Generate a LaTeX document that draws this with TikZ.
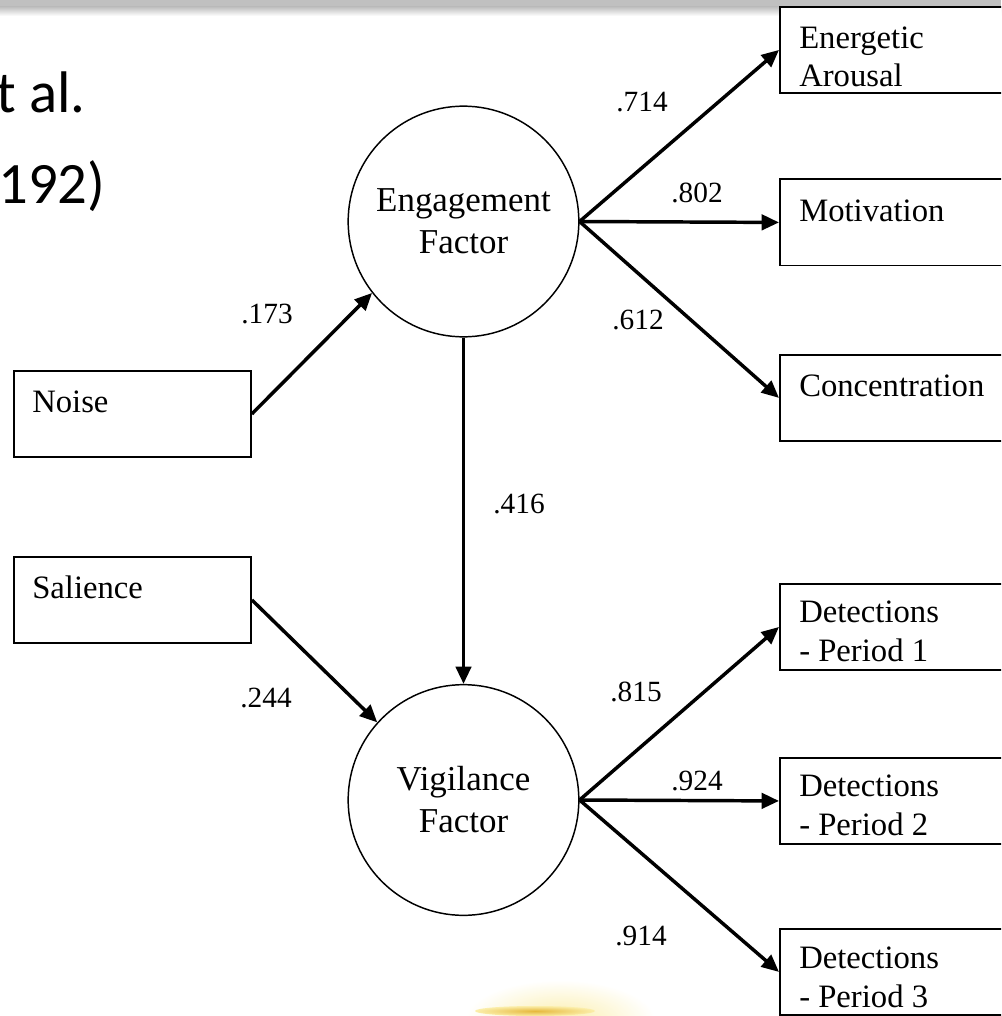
\documentclass[tikz,border=0pt]{standalone}
\usepackage{fontspec}
\setmainfont{Liberation Serif}
\newfontfamily\slidefont{Carlito}
\usetikzlibrary{arrows.meta}
\definecolor{bandgray}{RGB}{192,192,192}
\definecolor{glowgold}{RGB}{230,184,60}
\definecolor{glowpale}{RGB}{251,238,170}

\begin{document}
\begin{tikzpicture}[x=0.75pt,y=-0.75pt,
  factor/.style={draw, circle, line width=1.1pt, minimum size=173pt, inner sep=0pt,
    align=center, font=\fontsize{26.2}{31.5}\selectfont},
  box/.style={draw, fill=white, rectangle, line width=1.4pt, inner sep=0pt,
    anchor=north west, minimum height=64.5pt},
  leftbox/.style={box, minimum width=177.75pt},
  rightbox/.style={box, minimum width=195pt},
  txt/.style={anchor=base west, align=left, inner sep=0pt,
    font=\fontsize{24.5}{29}\selectfont},
  coef/.style={anchor=base, inner sep=0pt, font=\fontsize{22}{26}\selectfont},
  link/.style={line width=2.6pt, -{Triangle[length=13pt,width=11.5pt]}},
  slidetext/.style={anchor=base west, inner sep=0pt,
    font=\slidefont\fontsize{44}{52}\selectfont}
]
\useasboundingbox (0,0) rectangle (1001,1016);
\clip (0,0) rectangle (1001,1016);

% slide frame: grey band along the top edge
\fill[bandgray] (0,0) rectangle (1001,7);
\shade[top color=bandgray, bottom color=white] (0,7) rectangle (1001,16);

% golden glow at the bottom edge
\shade[inner color=glowpale, outer color=white] (560,1020) ellipse [x radius=95, y radius=40];
\shade[inner color=glowgold, outer color=glowpale] (535,1011) ellipse [x radius=60, y radius=5];

% slide title fragments
\node[slidetext] (title1) at (-4,113) {t al.};
\node[slidetext] (title2) at (-2,204) {192)};

% latent factors
\node[factor] (eng) at (463.5,221.5) {Engagement\\Factor};
\node[factor] (vig) at (463.5,800) {Vigilance\\Factor};

% manipulated variables
\node[leftbox] (noise) at (13,370) {};
\node[txt] (noise-t) at ([shift={(19,42)}]noise.north west) {Noise};
\node[leftbox] (sal) at (13,556) {};
\node[txt] (sal-t) at ([shift={(19,42)}]sal.north west) {Salience};

% engagement indicators (base anchor sits on the last line)
\node[rightbox] (ea) at (779,6) {};
\node[txt] (ea-t) at ([shift={(20,81)}]ea.north west) {Energetic\\Arousal};
\node[rightbox] (mot) at (779,178.5) {};
\node[txt] (mot-t) at ([shift={(20,43)}]mot.north west) {Motivation};
\node[rightbox] (con) at (779,354) {};
\node[txt] (con-t) at ([shift={(20,42)}]con.north west) {Concentration};

% vigilance indicators
\node[rightbox] (d1) at (779,583) {};
\node[txt] (d1-t) at ([shift={(20,78)}]d1.north west) {Detections\\- Period 1};
\node[rightbox] (d2) at (779,757) {};
\node[txt] (d2-t) at ([shift={(20,78)}]d2.north west) {Detections\\- Period 2};
\node[rightbox] (d3) at (779,928) {};
\node[txt] (d3-t) at ([shift={(20,79)}]d3.north west) {Detections\\- Period 3};

% paths
\draw[link] (noise.east) -- (eng.218);
\draw[link] (sal.east) -- (vig.138);
\draw[link] (eng.south) -- (vig.north);
\draw[link] (eng.east) -- (ea.west);
\draw[link] (eng.east) -- (mot.west);
\draw[link] (eng.east) -- (con.west);
\draw[link] (vig.east) -- (d1.west);
\draw[link] (vig.east) -- (d2.west);
\draw[link] (vig.east) -- (d3.west);

% path coefficients
\node[coef] (k173) at (267,323) {.173};
\node[coef] (k244) at (266,707) {.244};
\node[coef] (k416) at (519,513) {.416};
\node[coef] (k714) at (642,112) {.714};
\node[coef] (k802) at (697,203) {.802};
\node[coef] (k612) at (638,329) {.612};
\node[coef] (k815) at (636,701) {.815};
\node[coef] (k924) at (697,790) {.924};
\node[coef] (k914) at (641,945) {.914};
\end{tikzpicture}
\end{document}
